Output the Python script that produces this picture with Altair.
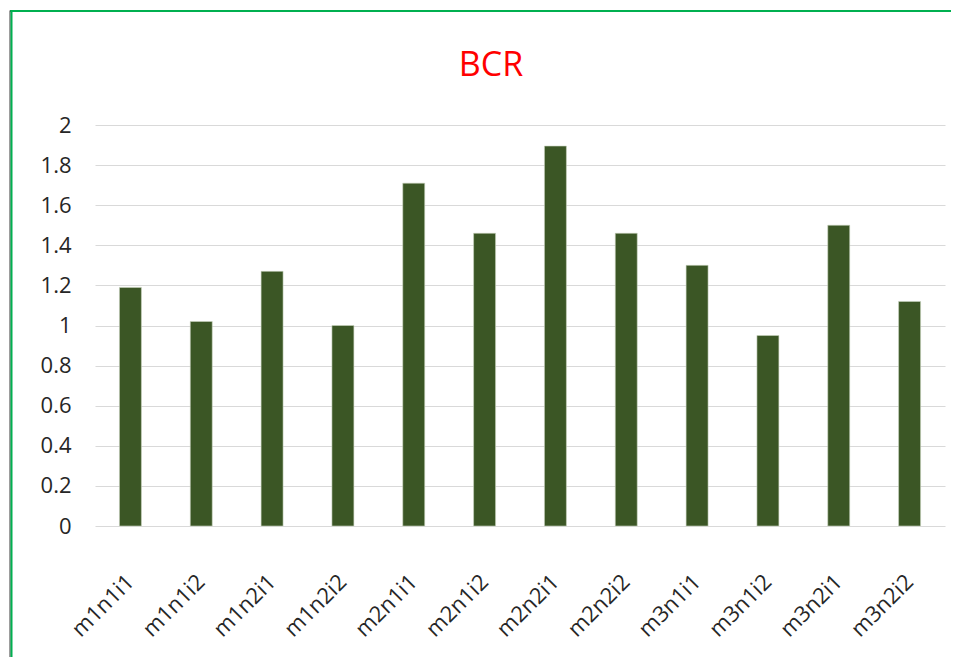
import altair as alt
import pandas as pd

categories = ["m1n1i1", "m1n1i2", "m1n2i1", "m1n2i2", "m2n1i1", "m2n1i2",
              "m2n2i1", "m2n2i2", "m3n1i1", "m3n1i2", "m3n2i1", "m3n2i2"]
values = [1.19, 1.02, 1.27, 1.00, 1.71, 1.46, 1.895, 1.46, 1.30, 0.95, 1.50, 1.12]
y_ticks = [0, 0.2, 0.4, 0.6, 0.8, 1, 1.2, 1.4, 1.6, 1.8, 2]
title_text = "BCR"

df = pd.DataFrame({"cat": categories, "val": values})

W, H = 850, 401
FONT = "Open Sans"

bars = alt.Chart(df).mark_bar(color="#3B5625", stroke="#c9d3c0", strokeWidth=0.6).encode(
    x=alt.X("cat:N", sort=categories, title=None,
            scale=alt.Scale(paddingInner=0.69, paddingOuter=0.345),
            axis=alt.Axis(labelAngle=-45, labelFontSize=22, labelFont=FONT,
                          labelColor="#262626", ticks=False, domain=False,
                          labelPadding=52, labelAlign="right", labelBaseline="middle")),
    y=alt.Y("val:Q", title=None, scale=alt.Scale(domain=[0, 2]),
            axis=alt.Axis(values=y_ticks, format="~g", labelFontSize=22, labelFont=FONT,
                          labelColor="#262626", ticks=False, domain=False,
                          labelPadding=24, gridColor="#d9d9d9", gridWidth=1.2)),
)

one = pd.DataFrame({"k": [0]})
title = alt.Chart(one).mark_text(font=FONT, fontSize=34, color="#FF0000",
                                 align="center", baseline="alphabetic").encode(
    x=alt.value(491 - 95), y=alt.value(76 - 125), text=alt.value(title_text))
top_line = alt.Chart(one).mark_rule(color="#00B050", strokeWidth=2.2).encode(
    x=alt.value(10 - 95), x2=alt.value(960 - 95), y=alt.value(11 - 125))
left_line = alt.Chart(one).mark_rule(color="#00B050", strokeWidth=2).encode(
    x=alt.value(11.5 - 95), y=alt.value(10 - 125), y2=alt.value(670 - 125))
left_dark = alt.Chart(one).mark_rule(color="#3a3a3a", strokeWidth=1).encode(
    x=alt.value(10 - 95), y=alt.value(10.5 - 125), y2=alt.value(670 - 125))

chart = alt.layer(bars, title, top_line, left_dark, left_line).properties(
    width=W, height=H,
    background="white",
    autosize=alt.AutoSizeParams(type="none"),
    padding={"left": 87, "top": 117, "right": 6, "bottom": 131},
).configure_view(stroke=None)

chart.save("out.html", embed_options={"renderer": "svg", "actions": False})
